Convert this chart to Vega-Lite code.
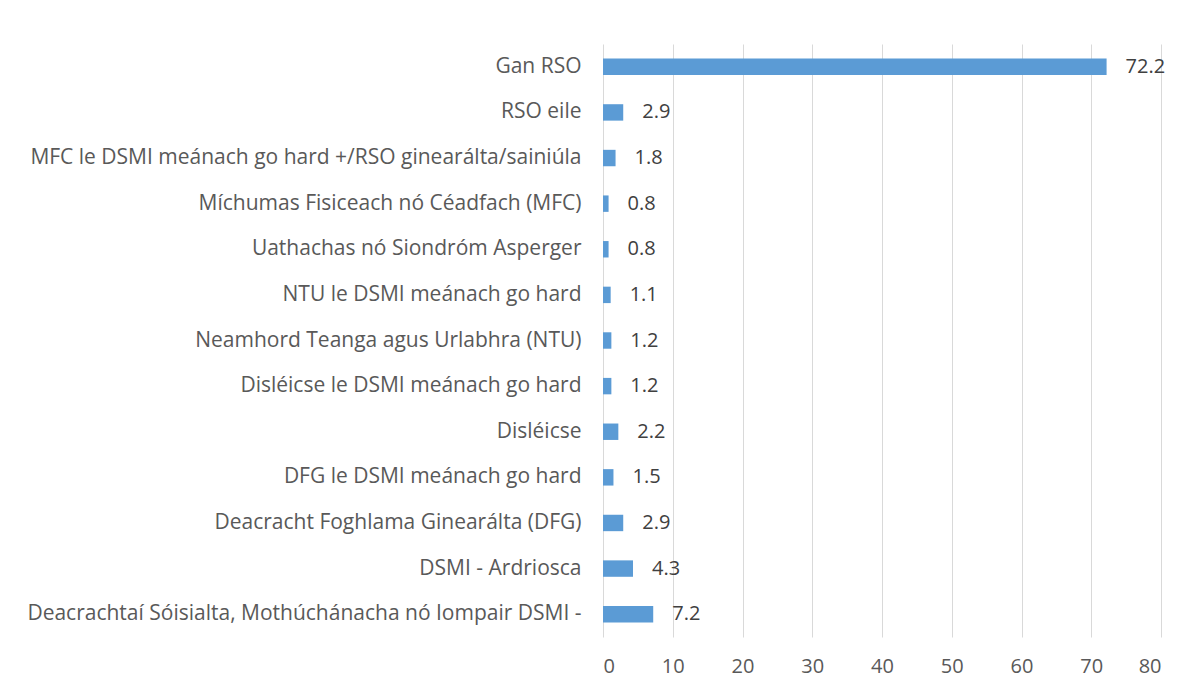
{
  "$schema": "https://vega.github.io/schema/vega-lite/v6.json",
  "autosize": {"type": "none"},
  "padding": {"left": 603, "top": 44, "right": 29, "bottom": 47},
  "width": 558,
  "height": 593,
  "background": "white",
  "config": {"view": {"stroke": null}, "font": "Open Sans"},
  "data": {"values": [
    {"cat": "Gan RSO", "v": 72.2},
    {"cat": "RSO eile", "v": 2.9},
    {"cat": "MFC le DSMI meánach go hard +/RSO ginearálta/sainiúla", "v": 1.8},
    {"cat": "Míchumas Fisiceach nó Céadfach (MFC)", "v": 0.8},
    {"cat": "Uathachas nó Siondróm Asperger", "v": 0.8},
    {"cat": "NTU le DSMI meánach go hard", "v": 1.1},
    {"cat": "Neamhord Teanga agus Urlabhra (NTU)", "v": 1.2},
    {"cat": "Disléicse le DSMI meánach go hard", "v": 1.2},
    {"cat": "Disléicse", "v": 2.2},
    {"cat": "DFG le DSMI meánach go hard", "v": 1.5},
    {"cat": "Deacracht Foghlama Ginearálta (DFG)", "v": 2.9},
    {"cat": "DSMI - Ardriosca", "v": 4.3},
    {"cat": "Deacrachtaí Sóisialta, Mothúchánacha nó Iompair DSMI -", "v": 7.2}
  ]},
  "encoding": {
    "y": {"field": "cat", "type": "nominal", "sort": null, "title": null,
      "scale": {"paddingInner": 0.64, "paddingOuter": 0.32},
      "axis": {"domain": false, "ticks": false, "labelFontSize": 21, "labelColor": "#595959", "labelPadding": 22, "labelLimit": 600, "labelFont": "Open Sans"}},
    "x": {"field": "v", "type": "quantitative", "title": null,
      "scale": {"domain": [0, 80], "nice": false},
      "axis": {"values": [0,10,20,30,40,50,60,70,80], "domain": false, "ticks": false, "grid": true, "gridColor": "#d9d9d9", "labelFontSize": 20, "labelColor": "#595959", "labelPadding": 19, "labelFont": "Open Sans"}},
    "tooltip": null
  },
  "layer": [
    {"mark": {"type": "bar", "color": "#5b9bd5"}},
    {"mark": {"type": "text", "align": "left", "dx": 19, "fontSize": 20, "color": "#404040", "font": "Open Sans"},
      "encoding": {"text": {"field": "v", "type": "quantitative", "format": ".1f"}}}
  ]
}
